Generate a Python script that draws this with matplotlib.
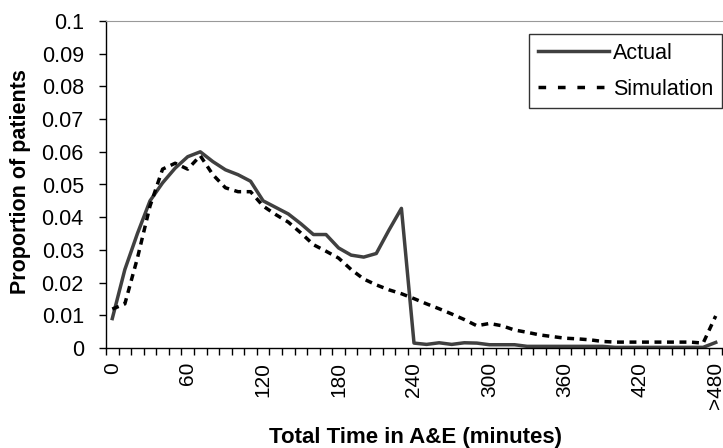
import numpy as np
import matplotlib
matplotlib.use('Agg')
import matplotlib.pyplot as plt

plt.rcParams['font.family'] = ['Liberation Sans', 'DejaVu Sans']

# time bins (minutes), last bin is ">480"
categories = [str(m) for m in range(0, 480, 10)] + ['>480']

actual = [0.009, 0.024, 0.035, 0.045, 0.0505, 0.055, 0.0585, 0.060, 0.057, 0.0545,
          0.053, 0.051, 0.045, 0.043, 0.041, 0.038, 0.0347, 0.0347, 0.0306, 0.0284,
          0.0278, 0.0289, 0.036, 0.0427, 0.0015, 0.0011, 0.0016, 0.0011, 0.0016, 0.0015,
          0.001, 0.001, 0.001, 0.0005, 0.0005, 0.0005, 0.0005, 0.0005, 0.0005, 0.0005,
          0.0002, 0.0002, 0.0002, 0.0002, 0.0002, 0.0002, 0.0002, 0.0002, 0.0017]

simulation = [0.0119, 0.0135, 0.0275, 0.0434, 0.0547, 0.0565, 0.0547, 0.0588, 0.053, 0.049,
              0.0478, 0.0478, 0.0434, 0.0408, 0.0385, 0.0352, 0.0316, 0.0296, 0.0275, 0.024,
              0.0211, 0.0193, 0.0178, 0.0166, 0.0151, 0.0135, 0.012, 0.0104, 0.0087, 0.0068,
              0.0075, 0.0068, 0.0055, 0.0048, 0.004, 0.0035, 0.003, 0.0028, 0.0025, 0.002,
              0.0018, 0.0018, 0.0018, 0.0018, 0.0018, 0.0018, 0.0018, 0.0015, 0.0098]

label_every = 6

x = np.arange(len(categories))

fig = plt.figure(figsize=(7.23, 4.48), dpi=100)
ax = fig.add_axes([106 / 723, 1 - 348 / 448, 616 / 723, 327 / 448])

ax.plot(x, actual, color='#404040', lw=2.5, label='Actual')
ax.plot(x, simulation, color='black', lw=2.5, linestyle=(0, (2, 1.6)), label='Simulation')

ax.set_xlim(-0.5, len(categories) - 0.5)
ax.set_ylim(0, 0.1)
ax.set_yticks(np.arange(0, 0.1001, 0.01))
ax.set_yticklabels(['0'] + ['%.2f' % v for v in np.arange(0.01, 0.0951, 0.01)] + ['0.1'])

ax.set_xticks(x[::label_every])
ax.set_xticklabels(categories[::label_every], rotation=90)
ax.set_xticks(np.arange(-0.5, len(categories), 1), minor=True)
ax.tick_params(axis='x', which='major', length=0, pad=10, labelsize=15)
ax.tick_params(axis='x', which='minor', length=5, width=1, direction='out')
ax.tick_params(axis='y', length=5, width=1, direction='out', labelsize=15.5, pad=11)

ax.spines['top'].set_color('#999999')
ax.spines['right'].set_visible(False)
ax.spines['left'].set_linewidth(1)
ax.spines['bottom'].set_linewidth(1)

fig.text(416 / 723, 1 - 437 / 448, 'Total Time in A&E (minutes)', fontsize=16,
         fontweight='bold', ha='center', va='center')
fig.text(21 / 723, 1 - 182 / 448, 'Proportion of patients', fontsize=15.5,
         fontweight='bold', ha='center', va='center', rotation=90)

leg = ax.legend(loc='upper right', bbox_to_anchor=(722 / 723, 1 - 34 / 448),
                bbox_transform=fig.transFigure, fontsize=15.5, frameon=True,
                fancybox=False, handlelength=3.3, handletextpad=0.2,
                borderpad=0.4, labelspacing=0.7, borderaxespad=0)
leg.get_frame().set_edgecolor('black')
leg.get_frame().set_linewidth(1)
leg.get_lines()[1].set_linestyle((0, (2.2, 3.4)))

fig.savefig('out.png', dpi=100)
